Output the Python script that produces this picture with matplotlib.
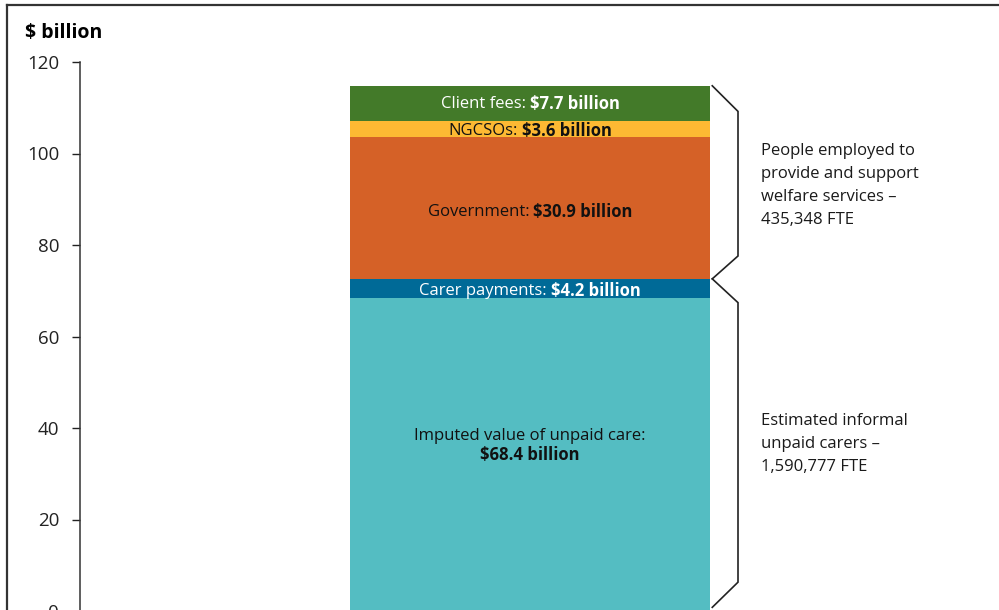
import numpy as np
import matplotlib.pyplot as plt
from matplotlib.transforms import offset_copy

plt.rcParams['font.family'] = ['Open Sans', 'DejaVu Sans']

# stacked from the bottom up
sources = ["Imputed value of unpaid care:", "Carer payments:", "Government:", "NGCSOs:", "Client fees:"]
values = [68.4, 4.2, 30.9, 3.6, 7.7]
colours = ["#54bdc2", "#006a97", "#d56127", "#fdb933", "#437a29"]
text_colours = ["#111111", "white", "#111111", "#111111", "white"]

groups = ["People employed to\nprovide and support\nwelfare services \u2013\n435,348 FTE",
          "Estimated informal\nunpaid carers \u2013\n1,590,777 FTE"]

yticks = [0, 20, 40, 60, 80, 100, 120]

fig = plt.figure(figsize=(9.99, 6.10), dpi=100)
ax = fig.add_axes([80/999, -1/610, 919/999, 549/610])

bar_x = 0.4897
bar_w = 0.3917
bottoms = np.concatenate([[0], np.cumsum(values)[:-1]])
ax.bar(bar_x, values, bottom=bottoms, width=bar_w, color=colours, edgecolor='none')

ax.set_xlim(0, 1)
ax.set_ylim(0, 120)
ax.set_yticks(yticks)
ax.set_yticklabels([str(t) for t in yticks], fontsize=13.5)
ax.tick_params(axis='y', direction='out', length=6, width=1, pad=9, colors='#222222')
ax.set_xticks([])
for s in ['top', 'right', 'bottom']:
    ax.spines[s].set_visible(False)
ax.spines['left'].set_color('#333333')
ax.spines['left'].set_linewidth(1.1)

fig.text(25/999, 1 - 33/610, "$ billion", fontsize=14, fontweight='bold', va='center')

fig.canvas.draw()
renderer = fig.canvas.get_renderer()


def mixed_label(x, y, plain, bold, colour, size=12):
    # plain part followed by a bold part, centred as one string
    t1 = ax.text(x, y, plain, fontsize=size, color=colour, ha='left', va='center')
    t2 = ax.text(x, y, bold, fontsize=size, color=colour, ha='left', va='center', fontweight='bold')
    w1 = t1.get_window_extent(renderer).width
    w2 = t2.get_window_extent(renderer).width
    gap = 4
    total = w1 + gap + w2
    t1.set_transform(offset_copy(ax.transData, fig=fig, x=-total/2, y=0, units='dots'))
    t2.set_transform(offset_copy(ax.transData, fig=fig, x=-total/2 + w1 + gap, y=0, units='dots'))


tops = bottoms + np.array(values)
nudge = [0, -0.6, -0.9, -0.4, -0.2]
for i in range(1, 5):
    mid = bottoms[i] + values[i] / 2 + nudge[i]
    mixed_label(bar_x, mid, sources[i], "$%.1f billion" % values[i], text_colours[i])

ax.text(bar_x, 38.2, sources[0], fontsize=12, color=text_colours[0], ha='center', va='center')
ax.text(bar_x, 34.0, "$%.1f billion" % values[0], fontsize=12, color=text_colours[0],
        ha='center', va='center', fontweight='bold')

# braces to the right of the bar
tip = 0.688
spine = 0.716
split = tops[1]
top = tops[4]
upper = [(tip, top), (spine, top - 5.6), (spine, split + 5.0), (tip, split)]
lower = [(tip, split), (spine, split - 5.2), (spine, 6.3), (tip, 0.8)]
for pts in [upper, lower]:
    xs, ys = zip(*pts)
    ax.plot(xs, ys, color='#222222', lw=1.2, solid_joinstyle='miter', clip_on=False)

ax.text(0.7415, 102.2, groups[0], fontsize=12, color='#1a1a1a', va='top', ha='left', linespacing=1.57)
ax.text(0.7415, 43.3, groups[1], fontsize=12, color='#1a1a1a', va='top', ha='left', linespacing=1.57)

# frame on the top and left edges
fig.add_artist(plt.Line2D([7/999, 1], [1 - 5/610, 1 - 5/610], color='#333333', lw=1.6))
fig.add_artist(plt.Line2D([7/999, 7/999], [0, 1 - 5/610], color='#333333', lw=1.6))

fig.savefig("out.png", dpi=100)
